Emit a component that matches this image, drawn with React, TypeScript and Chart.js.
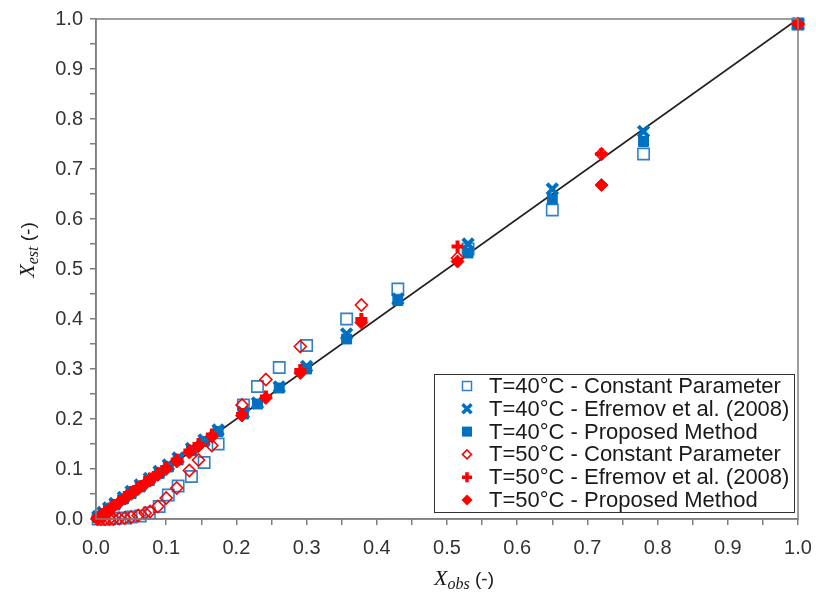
import React, { useEffect, useRef } from 'react';
import { Chart, registerables } from 'chart.js';

Chart.register(...registerables);

// ---- data ----
const xObs40 = [0.003, 0.01, 0.018, 0.027, 0.039, 0.05, 0.063, 0.076, 0.09, 0.103, 0.117, 0.136, 0.154, 0.174, 0.21, 0.23, 0.261, 0.3, 0.357, 0.43, 0.53, 0.65, 0.78, 1.0];
const cp40 = [0, 0, 0, 0.001, 0.002, 0.004, 0.006, 0.012, 0.025, 0.048, 0.066, 0.085, 0.113, 0.15, 0.228, 0.265, 0.303, 0.347, 0.4, 0.46, 0.54, 0.618, 0.73, 0.99];
const ef40 = [0.005, 0.013, 0.022, 0.031, 0.043, 0.055, 0.068, 0.081, 0.095, 0.108, 0.122, 0.141, 0.158, 0.178, 0.213, 0.232, 0.264, 0.305, 0.37, 0.44, 0.55, 0.66, 0.775, 0.99];
const pm40 = [0.003, 0.01, 0.019, 0.028, 0.04, 0.051, 0.064, 0.077, 0.091, 0.104, 0.118, 0.137, 0.155, 0.175, 0.21, 0.23, 0.262, 0.3, 0.36, 0.437, 0.532, 0.64, 0.755, 0.99];

const xObs50 = [0.002, 0.007, 0.013, 0.019, 0.025, 0.033, 0.041, 0.05, 0.06, 0.07, 0.077, 0.088, 0.1, 0.115, 0.133, 0.146, 0.165, 0.208, 0.242, 0.291, 0.378, 0.515, 0.72, 1.0];
const cp50 = [0, 0, 0, 0, 0, 0.001, 0.002, 0.004, 0.007, 0.012, 0.015, 0.025, 0.042, 0.062, 0.097, 0.118, 0.147, 0.228, 0.279, 0.345, 0.428, 0.522, 0.73, 0.99];
const ef50 = [0.003, 0.009, 0.015, 0.021, 0.028, 0.036, 0.044, 0.054, 0.064, 0.074, 0.081, 0.092, 0.104, 0.119, 0.137, 0.15, 0.169, 0.21, 0.245, 0.298, 0.4, 0.545, 0.73, 0.99];
const pm50 = [0.002, 0.007, 0.013, 0.019, 0.025, 0.033, 0.041, 0.05, 0.06, 0.07, 0.077, 0.088, 0.1, 0.115, 0.133, 0.146, 0.165, 0.207, 0.242, 0.292, 0.393, 0.515, 0.668, 0.99];

const parityX = [0, 1];
const parityY = [0, 1];

const seriesLabels = [
  'T=40°C - Constant Parameter',
  'T=40°C - Efremov et al. (2008)',
  'T=40°C - Proposed Method',
  'T=50°C - Constant Parameter',
  'T=50°C - Efremov et al. (2008)',
  'T=50°C - Proposed Method',
];

const BLUE = '#0070C0';
const BLUE_LIGHT = '#2F80C8';
const RED = '#FF0000';

const pts = (xs: number[], ys: number[]) => xs.map((x, i) => ({ x, y: ys[i] }));

function drawMarker(ctx: CanvasRenderingContext2D, kind: number, x: number, y: number) {
  ctx.save();
  switch (kind) {
    case 0:
      ctx.strokeStyle = BLUE_LIGHT; ctx.lineWidth = 1.5;
      ctx.strokeRect(x - 4.5, y - 4.5, 9, 9);
      break;
    case 1:
      ctx.strokeStyle = BLUE; ctx.lineWidth = 3.5;
      ctx.beginPath();
      ctx.moveTo(x - 4.5, y - 4.5); ctx.lineTo(x + 4.5, y + 4.5);
      ctx.moveTo(x + 4.5, y - 4.5); ctx.lineTo(x - 4.5, y + 4.5);
      ctx.stroke();
      break;
    case 2:
      ctx.fillStyle = BLUE;
      ctx.fillRect(x - 5, y - 5, 10, 10);
      break;
    case 3:
      ctx.strokeStyle = RED; ctx.lineWidth = 1.5;
      ctx.beginPath();
      ctx.moveTo(x - 4.5, y); ctx.lineTo(x, y - 4.5); ctx.lineTo(x + 4.5, y); ctx.lineTo(x, y + 4.5); ctx.closePath();
      ctx.stroke();
      break;
    case 4:
      ctx.strokeStyle = RED; ctx.lineWidth = 3.5;
      ctx.beginPath();
      ctx.moveTo(x - 5, y); ctx.lineTo(x + 5, y);
      ctx.moveTo(x, y - 5); ctx.lineTo(x, y + 5);
      ctx.stroke();
      break;
    case 5:
      ctx.fillStyle = RED;
      ctx.beginPath();
      ctx.moveTo(x - 5.5, y); ctx.lineTo(x, y - 5.5); ctx.lineTo(x + 5.5, y); ctx.lineTo(x, y + 5.5); ctx.closePath();
      ctx.fill();
      break;
  }
  ctx.restore();
}

const overlayPlugin = {
  id: 'overlay',
  afterDraw(chart: any) {
    const { ctx, chartArea: a } = chart;
    ctx.save();
    // frame
    ctx.strokeStyle = '#7f7f7f';
    ctx.lineWidth = 1.5;
    ctx.strokeRect(a.left, a.top, a.right - a.left, a.bottom - a.top);

    // legend
    const lx = 434, ly = 374, lw = 360, lh = 138;
    ctx.fillStyle = '#ffffff';
    ctx.fillRect(lx, ly, lw, lh);
    ctx.strokeStyle = '#333333';
    ctx.lineWidth = 1;
    ctx.strokeRect(lx + 0.5, ly + 0.5, lw, lh);
    ctx.font = '22px "Liberation Sans", Arial, sans-serif';
    ctx.textBaseline = 'middle';
    ctx.textAlign = 'left';
    seriesLabels.forEach((t, i) => {
      const yy = 386 + i * 22.8;
      drawMarker(ctx, i, 467, yy);
      ctx.fillStyle = '#1a1a1a';
      ctx.fillText(t, 489, yy + 1);
    });

    // axis titles
    const drawTitle = (sub: string) => {
      const f1 = 'italic 22px "Liberation Serif", "DejaVu Serif", serif';
      const f2 = 'italic 16px "Liberation Serif", "DejaVu Serif", serif';
      const f3 = '19px "Liberation Sans", Arial, sans-serif';
      ctx.font = f1; const w1 = ctx.measureText('X').width;
      ctx.font = f2; const w2 = ctx.measureText(sub).width;
      ctx.font = f3; const w3 = ctx.measureText(' (-)').width;
      const total = w1 + w2 + w3;
      let cx = -total / 2;
      ctx.textAlign = 'left';
      ctx.textBaseline = 'alphabetic';
      ctx.fillStyle = '#1a1a1a';
      ctx.font = f1; ctx.fillText('X', cx, 0); cx += w1;
      ctx.font = f2; ctx.fillText(sub, cx, 4); cx += w2;
      ctx.font = f3; ctx.fillText(' (-)', cx, 0);
    };
    ctx.save();
    ctx.translate(464, 585);
    drawTitle('obs');
    ctx.restore();
    ctx.save();
    ctx.translate(34, 250);
    ctx.rotate(-Math.PI / 2);
    drawTitle('est');
    ctx.restore();

    ctx.restore();
  },
};

const tickCb = (v: any) => (Math.round(Number(v) * 20) % 2 ? '' : Number(v).toFixed(1));

export default function App() {
  const ref = useRef<HTMLCanvasElement | null>(null);
  useEffect(() => {
    if (!ref.current) return;
    const common = { clip: false as any };
    const chart = new Chart(ref.current, {
      type: 'scatter',
      data: {
        datasets: [
          {
            label: 'parity', data: pts(parityX, parityY), showLine: true, borderColor: '#222222',
            borderWidth: 1.6, pointRadius: 0, order: 10, ...common,
          },
          {
            label: seriesLabels[0], data: pts(xObs40, cp40), pointStyle: 'rect', pointRadius: 8,
            borderColor: BLUE_LIGHT, backgroundColor: 'rgba(0,0,0,0)', borderWidth: 1.6, order: 6, ...common,
          },
          {
            label: seriesLabels[1], data: pts(xObs40, ef40), pointStyle: 'crossRot', pointRadius: 7.5,
            borderColor: BLUE, backgroundColor: BLUE, borderWidth: 4, order: 5, ...common,
          },
          {
            label: seriesLabels[2], data: pts(xObs40, pm40), pointStyle: 'rect', pointRadius: 7,
            borderColor: BLUE, backgroundColor: BLUE, borderWidth: 1, order: 4, ...common,
          },
          {
            label: seriesLabels[3], data: pts(xObs50, cp50), pointStyle: 'rectRot', pointRadius: 6,
            borderColor: RED, backgroundColor: 'rgba(0,0,0,0)', borderWidth: 1.6, order: 3, ...common,
          },
          {
            label: seriesLabels[4], data: pts(xObs50, ef50), pointStyle: 'cross', pointRadius: 6,
            borderColor: RED, backgroundColor: RED, borderWidth: 4, order: 2, ...common,
          },
          {
            label: seriesLabels[5], data: pts(xObs50, pm50), pointStyle: 'rectRot', pointRadius: 6.5,
            borderColor: RED, backgroundColor: RED, borderWidth: 1, order: 1, ...common,
          },
        ],
      },
      options: {
        animation: false,
        responsive: true,
        maintainAspectRatio: false,
        layout: { padding: { top: 19, right: 18, left: 0, bottom: 0 } },
        plugins: { legend: { display: false }, tooltip: { enabled: false } },
        scales: {
          x: {
            type: 'linear', min: 0, max: 1,
            ticks: {
              stepSize: 0.05, autoSkip: false, maxRotation: 0, callback: tickCb, padding: 11,
              color: '#333333', font: { size: 20, family: '"Liberation Sans", Arial, sans-serif' },
            },
            grid: { drawOnChartArea: false, drawTicks: true, tickLength: 6, color: '#7f7f7f', lineWidth: 1.5 },
            border: { display: true, color: '#7f7f7f', width: 1.5 },
            afterFit: (s: any) => { s.height = 85; s.paddingLeft = 0; s.paddingRight = 0; },
          },
          y: {
            type: 'linear', min: 0, max: 1,
            ticks: {
              stepSize: 0.05, autoSkip: false, callback: tickCb, padding: 7,
              color: '#333333', font: { size: 20, family: '"Liberation Sans", Arial, sans-serif' },
            },
            grid: { drawOnChartArea: false, drawTicks: true, tickLength: 6, color: '#7f7f7f', lineWidth: 1.5 },
            border: { display: true, color: '#7f7f7f', width: 1.5 },
            afterFit: (s: any) => { s.width = 96; s.paddingTop = 0; s.paddingBottom = 0; },
          },
        },
      } as any,
      plugins: [overlayPlugin],
    });
    return () => chart.destroy();
  }, []);
  return (
    <div style={{ position: 'fixed', left: 0, top: 0, width: 816, height: 604, background: '#fff' }}>
      <canvas ref={ref} />
    </div>
  );
}
